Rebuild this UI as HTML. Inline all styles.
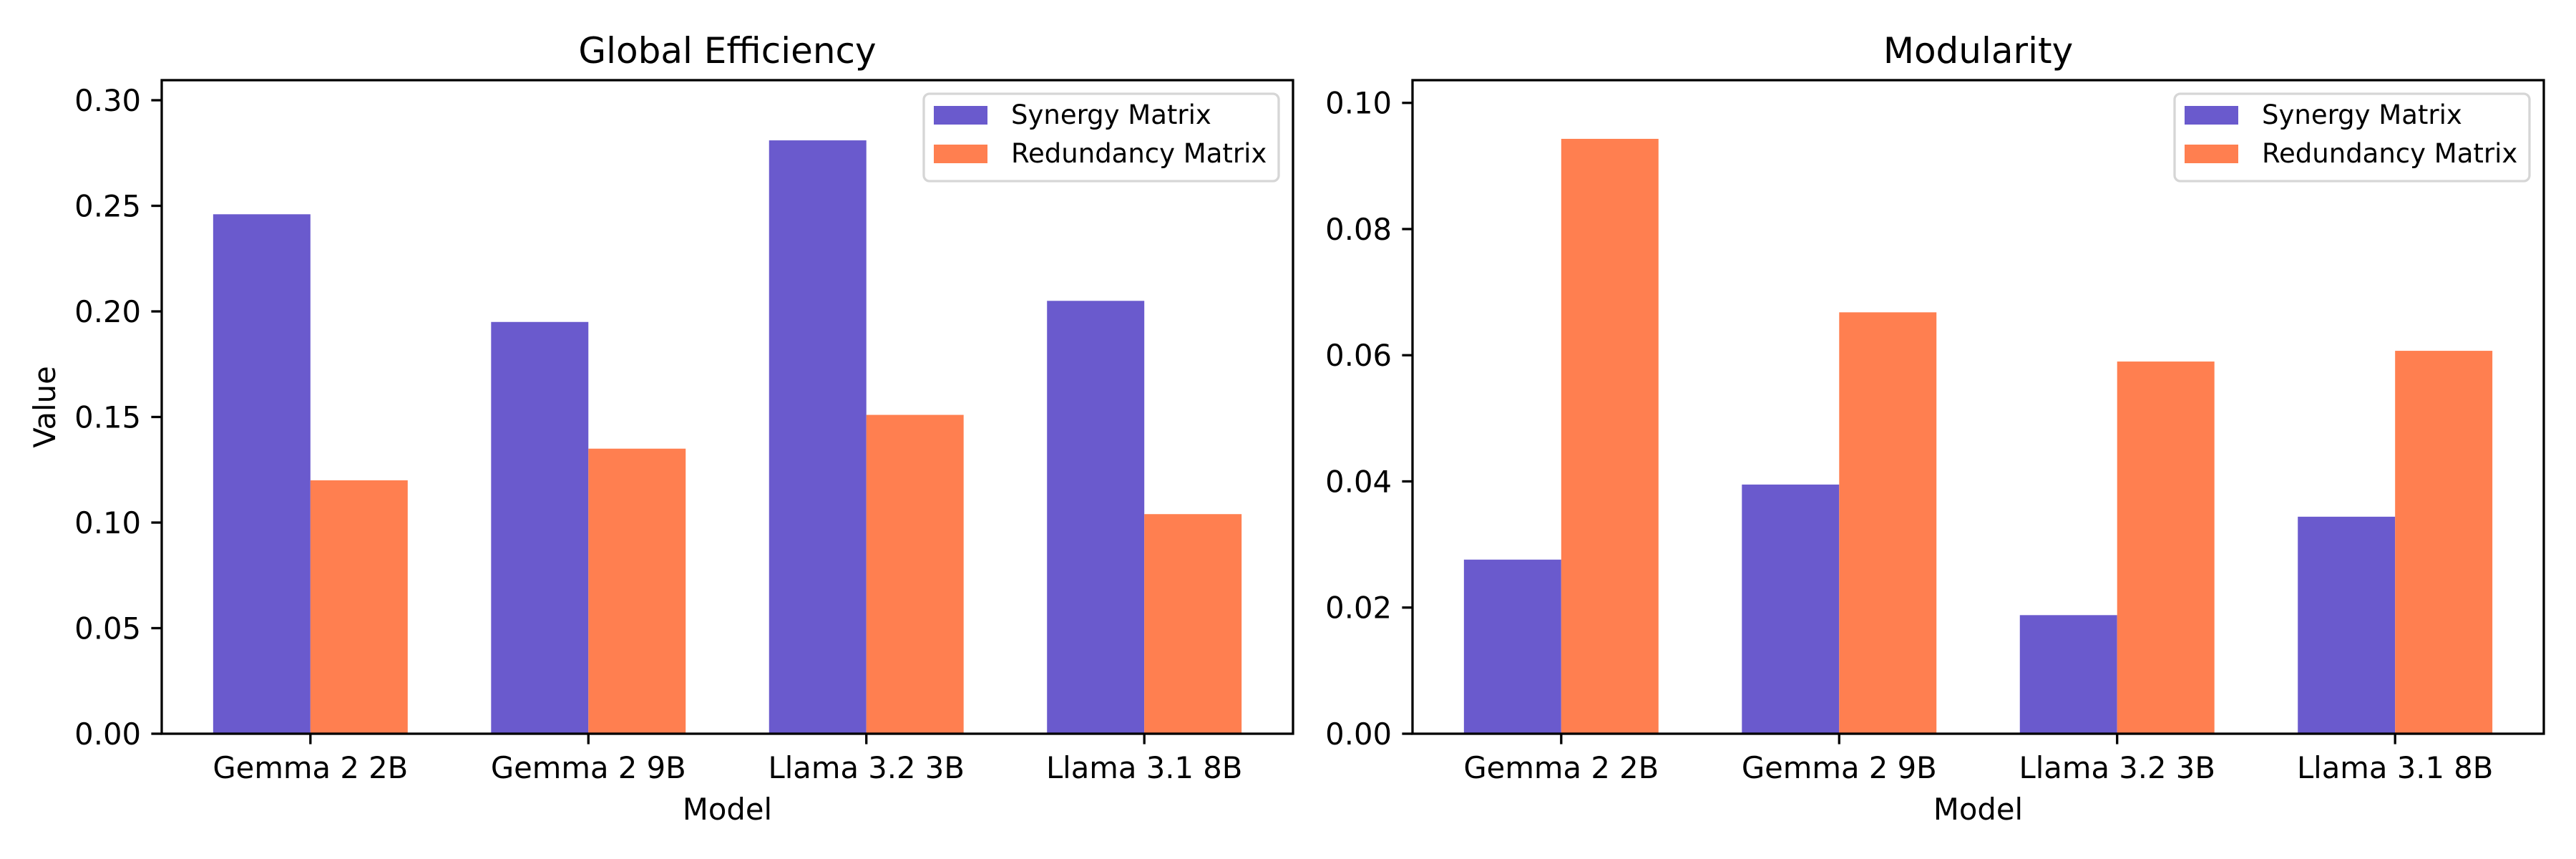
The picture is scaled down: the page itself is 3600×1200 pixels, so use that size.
<!DOCTYPE html>
<html><head><meta charset="utf-8"><style>
html,body{margin:0;padding:0;background:#fff;}
svg{display:block;font-family:"DejaVu Sans","Liberation Sans",sans-serif;}
</style></head><body>
<svg id="chart" width="3600" height="1200" viewBox="0 0 3600 1200" xmlns="http://www.w3.org/2000/svg"></svg>
<script>
const categories = ["Gemma 2 2B","Gemma 2 9B","Llama 3.2 3B","Llama 3.1 8B"];
const geSynergy = [0.246,0.195,0.281,0.205];
const geRedundancy = [0.120,0.135,0.151,0.104];
const modSynergy = [0.0276,0.0395,0.0188,0.0344];
const modRedundancy = [0.0943,0.0668,0.0590,0.0607];
const geTicks = [0,0.05,0.10,0.15,0.20,0.25,0.30];
const geTickLabels = ["0.00","0.05","0.10","0.15","0.20","0.25","0.30"];
const modTicks = [0,0.02,0.04,0.06,0.08,0.10];
const modTickLabels = ["0.00","0.02","0.04","0.06","0.08","0.10"];
const seriesNames = ["Synergy Matrix","Redundancy Matrix"];

const NS="http://www.w3.org/2000/svg";
const svg=document.getElementById('chart');
const C1="#6a5acd", C2="#ff7f50";
function mk(tag,attrs,parent){const e=document.createElementNS(NS,tag);for(const k in attrs)e.setAttribute(k,attrs[k]);(parent||svg).appendChild(e);return e;}

function panel(key,left,title,syn,red,ticks,tickLabels,ymax,showYLabel){
  const right=left+1581, top=112, bottom=1025;
  const g=mk('g',{});
  
  
  const xmin=-0.535, xmax=3.535;
  const xs=v=>left+(v-xmin)/(xmax-xmin)*(right-left);
  const ys=v=>bottom-v/ymax*(bottom-top);
  const w=0.35;
  categories.forEach((c,i)=>{
    const b1=mk('rect',{x:xs(i-w),y:ys(syn[i]),width:xs(i)-xs(i-w),height:ys(0)-ys(syn[i]),fill:C1},g);
    
    
    const b2=mk('rect',{x:xs(i),y:ys(red[i]),width:xs(i+w)-xs(i),height:ys(0)-ys(red[i]),fill:C2},g);
    
    
    mk('line',{x1:xs(i),x2:xs(i),y1:bottom,y2:bottom+14.6,stroke:'#000','stroke-width':3.3},g);
    const t=mk('text',{x:xs(i),y:1087,'text-anchor':'middle','font-size':41.7},g);
    t.textContent=c;
    
    
  });
  ticks.forEach((v,j)=>{
    mk('line',{x1:left-14.6,x2:left,y1:ys(v),y2:ys(v),stroke:'#000','stroke-width':3.3},g);
    const t=mk('text',{x:left-29,y:ys(v)+15,'text-anchor':'end','font-size':41.7},g);
    t.textContent=tickLabels[j];
    
    
  });
  const fr=mk('rect',{x:left,y:top,width:right-left,height:bottom-top,fill:'none',stroke:'#000','stroke-width':3.3},g);
  
  
  const tt=mk('text',{x:(left+right)/2,y:88,'text-anchor':'middle','font-size':50},g);
  tt.textContent=title;
  
  
  const xl=mk('text',{x:(left+right)/2,y:1145,'text-anchor':'middle','font-size':41.7},g);
  xl.textContent='Model';
  
  
  if(showYLabel){
    const yl=mk('text',{x:0,y:0,'text-anchor':'middle','font-size':41.7,transform:'translate(77,'+((top+bottom)/2)+') rotate(-90)'},g);
    yl.textContent='Value';
    
    
  }
  // legend
  const lx=right-516, ly=131;
  const lg=mk('g',{},g);
  
  
  mk('rect',{x:lx,y:ly,width:496,height:122,rx:8,fill:'#fff','fill-opacity':0.8,stroke:'#d6d6d6','stroke-width':3.3},lg);
  [C1,C2].forEach((col,k)=>{
    const yy=ly+17+k*54;
    mk('rect',{x:lx+14,y:yy,width:75,height:26,fill:col},lg);
    const t=mk('text',{x:lx+122,y:yy+25,'font-size':37},lg);
    t.textContent=seriesNames[k];
    
    
  });
}
panel('global-efficiency',226,'Global Efficiency',geSynergy,geRedundancy,geTicks,geTickLabels,0.3095,true);
panel('modularity',1974,'Modularity',modSynergy,modRedundancy,modTicks,modTickLabels,0.1036,false);
</script>
</body></html>
